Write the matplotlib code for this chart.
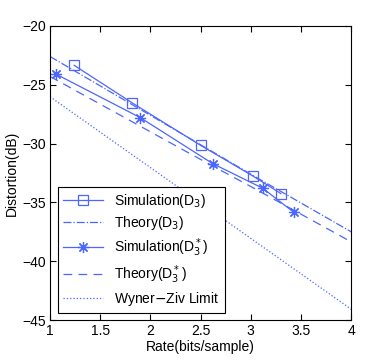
import numpy as np
import matplotlib
matplotlib.use("Agg")
import matplotlib.pyplot as plt

plt.rcParams['font.family'] = ['Liberation Sans', 'DejaVu Sans']

# 仿真数据
rate_sim = [1.24, 1.82, 2.50, 3.02, 3.30]
dist_sim = [-23.35, -26.55, -30.15, -32.75, -34.25]
rate_sim_star = [1.06, 1.90, 2.62, 3.12, 3.43]
dist_sim_star = [-24.1, -27.8, -31.7, -33.8, -35.85]

# 理论曲线
rate_th = [1.0, 1.5, 2.0, 2.5, 3.0, 3.5, 4.0]
dist_th = [-22.6, -25.1, -27.6, -30.1, -32.6, -35.05, -37.5]
dist_th_star = [-24.3, -26.65, -29.0, -31.35, -33.65, -36.0, -38.35]
dist_wz = [-26.02, -29.03, -32.04, -35.05, -38.06, -41.07, -44.08]

c = (0.3, 0.4, 1.0)

fig = plt.figure(figsize=(3.88, 3.6), dpi=100)
ax = fig.add_axes([0.129, 0.111, 0.776, 0.817])

ax.plot(rate_sim, dist_sim, '-', color=c, lw=0.9, marker='s', ms=7,
        mfc='none', mec=c, mew=0.9, label="Simulation(D$_3$)")
ax.plot(rate_th, dist_th, '-.', color=c, lw=0.9, label="Theory(D$_3$)")
ax.plot(rate_sim_star, dist_sim_star, '-', color=c, lw=0.9, marker=(8, 2, 0),
        ms=8, mec=c, mew=0.9, label="Simulation(D$_3^*$)")
ax.plot(rate_th, dist_th_star, '--', color=c, lw=0.9, dashes=(7, 5),
        label="Theory(D$_3^*$)")
ax.plot(rate_th, dist_wz, ':', color=c, lw=0.9, label="Wyner$-$Ziv Limit")

ax.set_xlim(1, 4)
ax.set_ylim(-45, -20)
ax.set_xticks([1, 1.5, 2, 2.5, 3, 3.5, 4])
ax.set_xticklabels(["1", "1.5", "2", "2.5", "3", "3.5", "4"])
ax.set_yticks([-45, -40, -35, -30, -25, -20])
ax.set_yticklabels(["\u221245", "\u221240", "\u221235", "\u221230", "\u221225", "\u221220"])
ax.tick_params(direction='in', top=True, right=True, labelsize=10, length=4, pad=3)
ax.set_xlabel("Rate(bits/sample)", fontsize=10, labelpad=1)
ax.set_ylabel("Distortion(dB)", fontsize=10, labelpad=2)

leg = ax.legend(loc='lower left', fontsize=10, fancybox=False, edgecolor='k',
                handlelength=2.9, labelspacing=0.3, borderaxespad=0.0,
                borderpad=0.35, framealpha=1, bbox_to_anchor=(0.027, 0.025))
leg.get_frame().set_linewidth(0.8)

plt.savefig("out.png", dpi=100)
